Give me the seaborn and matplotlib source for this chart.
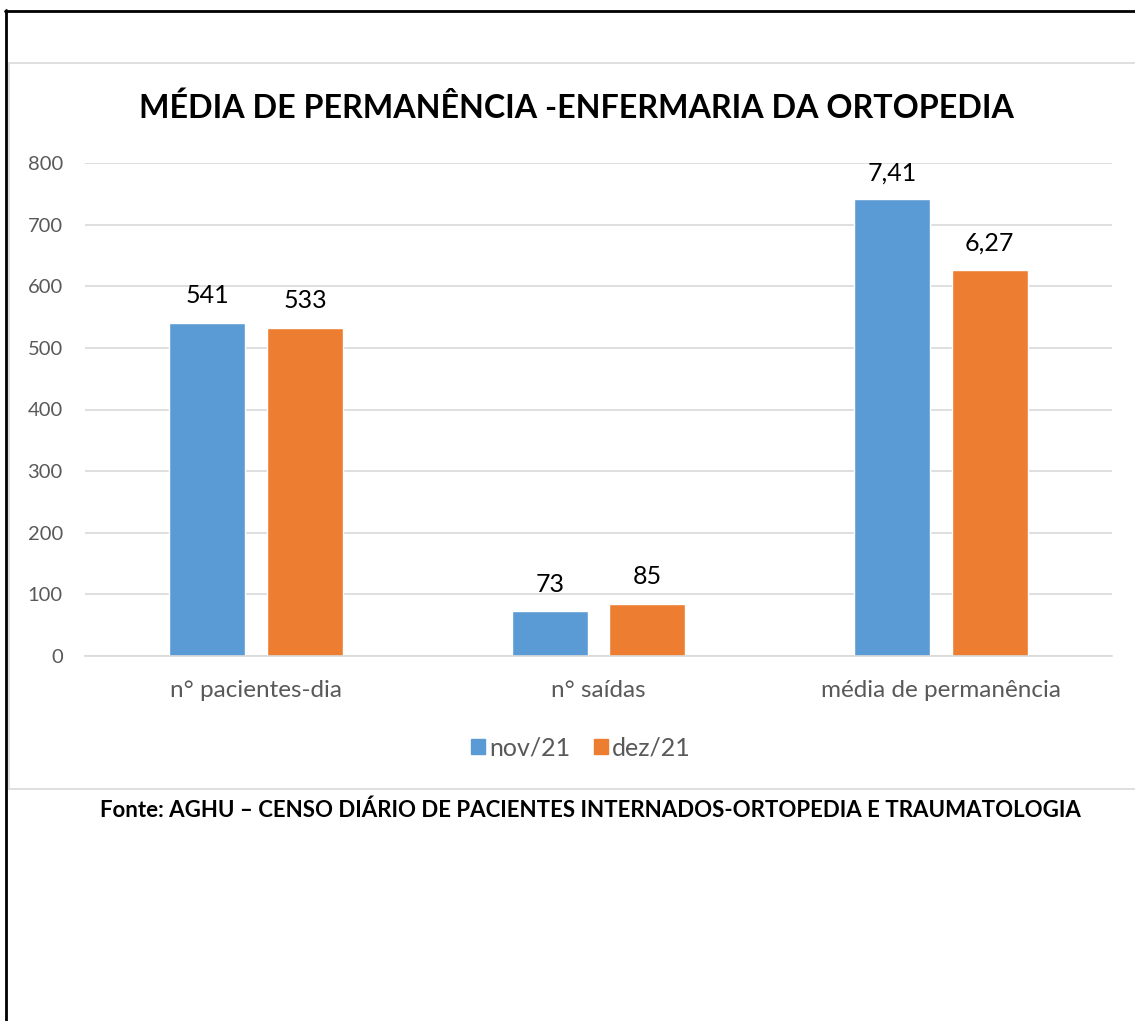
import matplotlib
matplotlib.use("Agg")
import matplotlib.pyplot as plt
import seaborn as sns
import pandas as pd
from matplotlib.lines import Line2D
from matplotlib.patches import Patch

categories = ["n° pacientes-dia", "n° saídas", "média de permanência"]
series_names = ["nov/21", "dez/21"]
nov_values = [541, 73, 741]
dez_values = [533, 85, 627]
nov_labels = ["541", "73", "7,41"]
dez_labels = ["533", "85", "6,27"]
y_ticks = [0, 100, 200, 300, 400, 500, 600, 700, 800]

title = "MÉDIA DE PERMANÊNCIA -ENFERMARIA DA ORTOPEDIA"
footer = "Fonte: AGHU – CENSO DIÁRIO DE PACIENTES INTERNADOS-ORTOPEDIA E TRAUMATOLOGIA"

colors = ["#5B9BD5", "#ED7D31"]

sns.set_theme(style="white")
plt.rcParams['font.family'] = ['Lato', 'DejaVu Sans']

df = pd.DataFrame({
    "categoria": categories * 2,
    "serie": [series_names[0]] * 3 + [series_names[1]] * 3,
    "valor": nov_values + dez_values,
})

W, H = 1135, 1021
fig = plt.figure(figsize=(W / 100, H / 100), dpi=100)
ax = fig.add_axes([85 / W, 1 - 656 / H, (1112 - 85) / W, (656 - 163) / H])

sns.barplot(data=df, x="categoria", y="valor", hue="serie", order=categories,
            hue_order=series_names, palette=colors, width=0.57, gap=0.22,
            saturation=1, ax=ax, legend=False, errorbar=None)

ax.set_ylim(0, 800)
ax.set_xlim(-0.5, 2.5)
ax.set_yticks(y_ticks)
ax.set_yticklabels([str(t) for t in y_ticks])
ax.yaxis.grid(True, color="#D9D9D9", linewidth=1.2)
ax.set_axisbelow(True)
for s in ["top", "right", "left"]:
    ax.spines[s].set_visible(False)
ax.spines["bottom"].set_color("#D9D9D9")
ax.spines["bottom"].set_linewidth(1.2)
ax.tick_params(axis="y", length=0, pad=16, labelsize=14.5, labelcolor="#595959")
ax.tick_params(axis="x", length=0, pad=17, labelsize=17.5, labelcolor="#595959")
ax.set_xlabel("")
ax.set_ylabel("")

labels_by_series = [nov_labels, dez_labels]
for cont, labs in zip(ax.containers, labels_by_series):
    ax.bar_label(cont, labels=labs, padding=11, fontsize=18, color="black")

# legend
handles = [Patch(facecolor=c, edgecolor=c) for c in colors]
fig.legend(handles, series_names, loc="center", bbox_to_anchor=(581 / W, 1 - 748 / H),
           ncol=2, frameon=False, fontsize=18, handlelength=0.56, handleheight=0.56,
           handletextpad=0.15, columnspacing=0.95, labelcolor="#595959")

fig.text(576 / W, 1 - 108 / H, title, ha="center", va="center", fontsize=23.2,
         fontweight="bold", color="black")
fig.text(590 / W, 1 - 810 / H, footer, ha="center", va="center", fontsize=16,
         fontweight="bold", color="black")

# outer black frame (left and top)
fig.add_artist(Line2D([6 / W, 6 / W], [0, 1 - 10 / H], transform=fig.transFigure,
                      color="black", linewidth=2))
fig.add_artist(Line2D([5 / W, 1], [1 - 11 / H, 1 - 11 / H], transform=fig.transFigure,
                      color="black", linewidth=2))
# chart area light border
fig.add_artist(Line2D([9 / W, 9 / W, 1], [1 - 789 / H, 1 - 63 / H, 1 - 63 / H],
                      transform=fig.transFigure, color="#D9D9D9", linewidth=1.2))
fig.add_artist(Line2D([9 / W, 1], [1 - 789 / H, 1 - 789 / H],
                      transform=fig.transFigure, color="#D9D9D9", linewidth=1.2))

fig.savefig("out.png", dpi=100)
